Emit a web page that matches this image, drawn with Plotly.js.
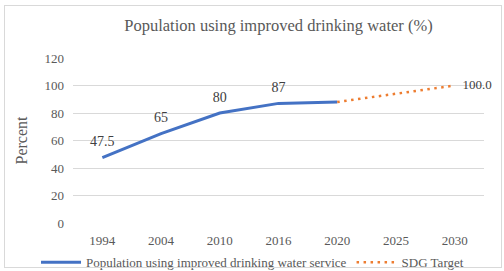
<!DOCTYPE html>
<html><head><meta charset="utf-8">
<script src="https://cdn.plot.ly/plotly-3.0.1.min.js"></script>
<style>body{margin:0;background:#fff}#frame{position:absolute;left:4px;top:5px;width:496px;height:261px;border:1px solid #d9d9d9;pointer-events:none}</style>
</head><body>
<div id="chart" style="width:504px;height:271px"></div>
<div id="frame"></div>
<script>
const years = ['1994','2004','2010','2016','2020','2025','2030'];
const actual = [47.5, 65, 80, 87, 88, null, null];
const actualLabels = ['47.5','65','80','87','','',''];
const target = [null, null, null, null, 88, 94, 100];
const targetLabels = ['','','','','','','100.0'];
const font = 'Liberation Serif, Times New Roman, serif';
Plotly.newPlot('chart', [
  {x: years, y: actual, mode: 'lines+markers+text', name: 'Population using improved drinking water service',
   line: {color: '#4472C4', width: 3}, marker: {size: 11, color: 'rgba(0,0,0,0)'},
   text: actualLabels, textposition: 'top center',
   textfont: {size: 14, color: '#404040', family: font}, cliponaxis: false},
  {x: years, y: target, mode: 'lines+markers+text', name: 'SDG Target',
   line: {color: '#ED7D31', width: 2.5, dash: '2.5px,4.5px'}, marker: {size: 11, color: 'rgba(0,0,0,0)'},
   text: targetLabels, textposition: 'middle right',
   textfont: {size: 13, color: '#404040', family: font}, cliponaxis: false}
], {
  width: 504, height: 271,
  margin: {l: 73, r: 20, t: 58, b: 48, autoexpand: false},
  paper_bgcolor: '#fff', plot_bgcolor: '#fff',
  font: {family: font, color: '#595959', size: 12},
  title: {text: 'Population using improved drinking water (%)', font: {size: 16.5, color: '#595959', family: font}, xref: 'paper', x: 0.5, xanchor: 'center', y: 0.93},
  xaxis: {type: 'category', range: [-0.5, 6.5], showgrid: false, zeroline: false, showline: false, ticks: '',
          ticklabelstandoff: 8, tickfont: {size: 13, color: '#595959'}},
  yaxis: {range: [0, 120], dtick: 20, gridcolor: '#d9d9d9', zeroline: false, showline: false, ticks: '',
          ticklabelstandoff: 8, tickfont: {size: 13, color: '#595959'},
          title: {text: 'Percent', font: {size: 16, color: '#595959'}, standoff: 12}},
  showlegend: true,
  legend: {orientation: 'h', xref: 'paper', yref: 'paper', x: -0.09, xanchor: 'left', y: -0.148, yanchor: 'top',
           bgcolor: 'rgba(0,0,0,0)', font: {size: 13, color: '#595959'}, itemwidth: 40, tracegroupgap: 0}
}, {displayModeBar: false});
</script>
</body></html>
